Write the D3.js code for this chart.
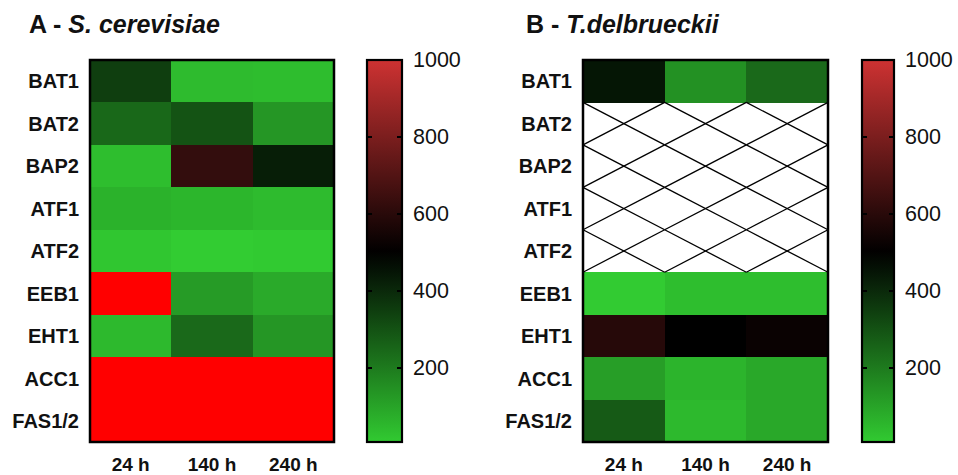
<!DOCTYPE html>
<html>
<head>
<meta charset="utf-8">
<script src="https://cdn.jsdelivr.net/npm/d3@7"></script>
<style>
  html, body { margin: 0; padding: 0; background: #fff; }
  svg { display: block; font-family: "Liberation Sans", Arial, Helvetica, sans-serif; }
</style>
</head>
<body>
<svg id="chart" width="958" height="475"></svg>
<script>
// Genes (rows) and sampling times (columns)
const genes = ["BAT1", "BAT2", "BAP2", "ATF1", "ATF2", "EEB1", "EHT1", "ACC1", "FAS1/2"];
const times = ["24 h", "140 h", "240 h"];

// Relative expression per gene, columns = 24 h, 140 h, 240 h (null = not determined)
const cerevisiae = [
  [350, 45, 40],
  [246, 298, 134],
  [37, 625, 427],
  [66, 56, 45],
  [17, 3, 7],
  [1200, 122, 85],
  [49, 244, 134],
  [1200, 1200, 1200],
  [1200, 1200, 1200]
];
const delbrueckii = [
  [446, 146, 244],
  [null, null, null],
  [null, null, null],
  [null, null, null],
  [null, null, null],
  [5, 37, 37],
  [593, 500, 524],
  [115, 61, 90],
  [280, 49, 90]
];

// Colour bar ticks
const cbarTicks = [200, 400, 600, 800, 1000];
const cbarDomain = [8, 1000];

// green -> black -> red colour map; values above the top of the bar show as pure red
const cmap = d3.scaleLinear()
  .domain([0, 500, 1000])
  .range(["rgb(50,205,50)", "rgb(0,0,0)", "rgb(205,50,50)"])
  .interpolate(d3.interpolateRgb)
  .clamp(true);
const colorOf = v => (v > cbarDomain[1] ? "#ff0000" : cmap(v));

const svg = d3.select("#chart");
const plotTop = 60, plotBottom = 442;

function panel(cfg) {
  const g = svg.append("g");
  const x = d3.scaleBand().domain(times).range([cfg.x0, cfg.x1]);
  const y = d3.scaleBand().domain(genes).range([plotTop, plotBottom]);

  // cells
  const cells = [];
  cfg.data.forEach((row, i) => row.forEach((v, j) => cells.push({ gene: genes[i], time: times[j], v })));

  g.selectAll("rect.cell")
    .data(cells.filter(d => d.v !== null))
    .join("rect")
    .attr("class", "cell")
    .attr("x", d => x(d.time))
    .attr("y", d => y(d.gene))
    .attr("width", x.bandwidth() + 0.6)
    .attr("height", y.bandwidth() + 0.6)
    .attr("shape-rendering", "crispEdges")
    .attr("fill", d => colorOf(d.v));

  // missing values: crossed cells
  const missing = cells.filter(d => d.v === null);
  const hatch = g.append("g").attr("stroke", "#000").attr("stroke-width", 1.3).attr("fill", "none");
  missing.forEach(d => {
    const xa = x(d.time), xb = xa + x.bandwidth();
    const ya = y(d.gene), yb = ya + y.bandwidth();
    hatch.append("line").attr("x1", xa).attr("y1", ya).attr("x2", xb).attr("y2", yb);
    hatch.append("line").attr("x1", xb).attr("y1", ya).attr("x2", xa).attr("y2", yb);
  });

  // frame
  g.append("rect")
    .attr("x", cfg.x0).attr("y", plotTop)
    .attr("width", cfg.x1 - cfg.x0).attr("height", plotBottom - plotTop)
    .attr("fill", "none").attr("stroke", "#000").attr("stroke-width", 2.5);

  // row labels
  g.selectAll("text.gene")
    .data(genes)
    .join("text")
    .attr("class", "gene")
    .attr("x", cfg.x0 - 11)
    .attr("y", d => y(d) + y.bandwidth() / 2)
    .attr("dy", "0.36em")
    .attr("text-anchor", "end")
    .attr("font-size", 20)
    .attr("font-weight", "bold")
    .attr("fill", "#111")
    .text(d => d);

  // column labels
  g.selectAll("text.time")
    .data(times)
    .join("text")
    .attr("class", "time")
    .attr("x", d => x(d) + x.bandwidth() / 2)
    .attr("y", 471)
    .attr("text-anchor", "middle")
    .attr("font-size", 19)
    .attr("font-weight", "bold")
    .attr("fill", "#111")
    .text(d => d);

  // title
  const t = g.append("text")
    .attr("x", cfg.titleX).attr("y", 33)
    .attr("font-size", 25).attr("font-weight", "bold").attr("fill", "#111");
  t.append("tspan").text(cfg.letter + " - ");
  t.append("tspan").attr("font-style", "italic").text(cfg.species);

  // colour bar
  const cy = d3.scaleLinear().domain(cbarDomain).range([plotBottom, plotTop]);
  const gradId = "grad" + cfg.letter;
  const grad = svg.append("defs").append("linearGradient")
    .attr("id", gradId).attr("x1", 0).attr("y1", 1).attr("x2", 0).attr("y2", 0);
  d3.range(0, 1.0001, 0.05).forEach(f => {
    const v = cbarDomain[0] + f * (cbarDomain[1] - cbarDomain[0]);
    grad.append("stop").attr("offset", f).attr("stop-color", cmap(v));
  });
  const cb = g.append("g");
  cb.append("rect")
    .attr("x", cfg.cb0).attr("y", plotTop)
    .attr("width", cfg.cb1 - cfg.cb0).attr("height", plotBottom - plotTop)
    .attr("fill", `url(#${gradId})`)
    .attr("stroke", "#000").attr("stroke-width", 2.2);

  // inner tick marks on both sides
  cb.selectAll("path.tick")
    .data(cbarTicks.filter(v => v < cbarDomain[1]))
    .join("path")
    .attr("class", "tick")
    .attr("d", v => `M${cfg.cb0},${cy(v)}h5M${cfg.cb1},${cy(v)}h-5`)
    .attr("stroke", "#000").attr("stroke-width", 2);

  const axis = d3.axisRight(cy).tickValues(cbarTicks).tickSize(0).tickPadding(0).tickFormat(d3.format("d"));
  const ag = cb.append("g")
    .attr("transform", `translate(${cfg.cb1 + 11},0)`)
    .call(axis);
  ag.select(".domain").remove();
  ag.selectAll("text")
    .attr("font-size", 21.5)
    .attr("font-family", "Liberation Sans, Arial, sans-serif")
    .attr("fill", "#111");
}

panel({ letter: "A", species: "S. cerevisiae", data: cerevisiae, x0: 90, x1: 334, cb0: 367, cb1: 402, titleX: 29 });
panel({ letter: "B", species: "T.delbrueckii", data: delbrueckii, x0: 583, x1: 828, cb0: 862, cb1: 894, titleX: 526 });
</script>
</body>
</html>
